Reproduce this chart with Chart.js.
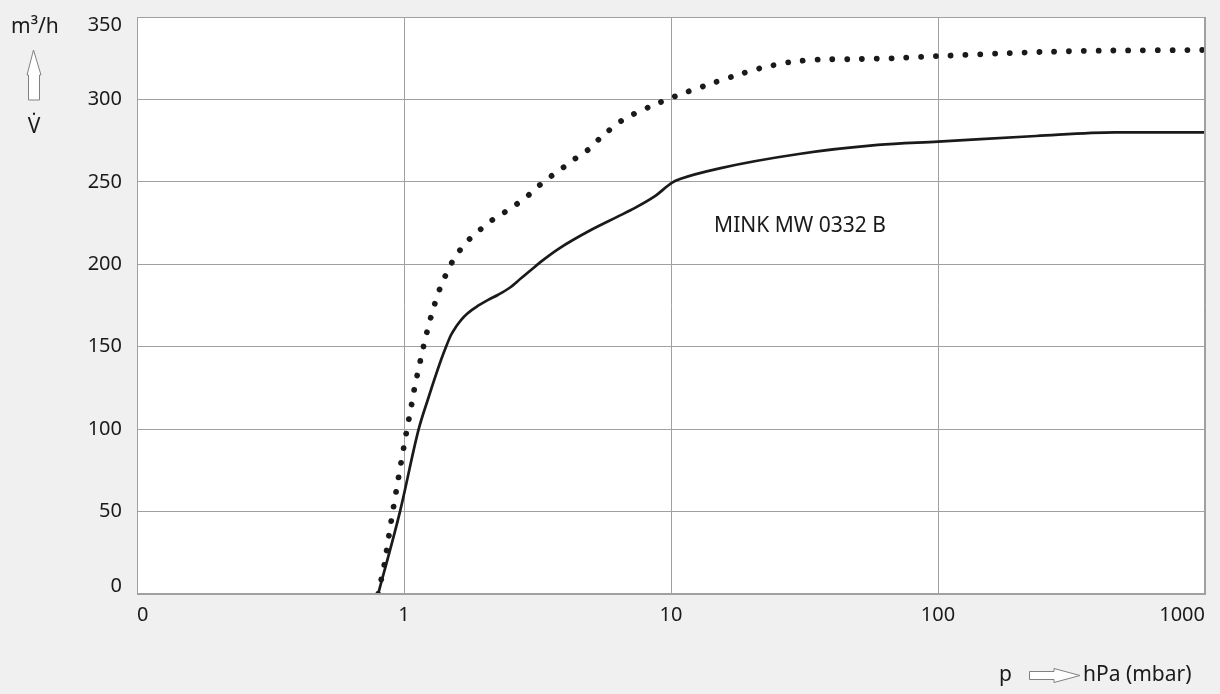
<!DOCTYPE html>
<html>
<head>
<meta charset="utf-8">
<script src="https://cdn.jsdelivr.net/npm/chart.js@4.4.1/dist/chart.umd.min.js"></script>
<style>
  html, body { margin: 0; padding: 0; background: #f0f0f0; }
  #wrap { width: 1220px; height: 694px; position: relative; }
</style>
</head>
<body>
<div id="wrap"><canvas id="c" width="1220" height="694"></canvas></div>
<script>
// ---- Data ----
const xTickValues = [0.1, 1, 10, 100, 1000];
const xTickLabels = ['0', '1', '10', '100', '1000'];
const yTickValues = [0, 50, 100, 150, 200, 250, 300, 350];
const yTickLabels = ['0', '50', '100', '150', '200', '250', '300', '350'];

// solid curve (MINK MW 0332 B)
const solidP = [0.8, 0.966, 1.135, 1.227, 1.376, 1.437, 1.50, 1.566, 1.635, 1.732, 1.888, 2.058, 2.244, 2.48, 2.744, 2.99, 3.26, 3.817, 5.01, 6.31, 7.08, 8.65, 10.1, 10.8, 15.2, 30.1, 59.5, 100, 233, 460, 1000];
const solidV = [0, 50, 100, 117.7, 141.9, 150, 157.1, 162.1, 166.2, 170.3, 174.7, 178.3, 181.4, 185.6, 191.5, 196.5, 201.6, 209.7, 220.8, 228.9, 232.9, 241, 249.5, 251.7, 258.2, 266.9, 272.4, 274.4, 277.8, 280, 280];

// dotted curve
const dotP = [0.8, 0.844, 0.896, 0.955, 1.02, 1.069, 1.093, 1.185, 1.262, 1.364, 1.517, 1.63, 1.77, 1.955, 2.16, 2.41, 2.67, 2.96, 3.26, 3.61, 4.0, 4.43, 4.88, 5.47, 6.58, 8.29, 10.4, 13.4, 17.0, 21.7, 27.9, 35.9, 46.4, 68.2, 100, 166.6, 245, 409, 1000];
const dotV = [0, 18, 44.5, 71.2, 97.7, 115.4, 124.3, 150.6, 168.2, 185.4, 201.6, 209.1, 215.7, 221.8, 227.3, 232.1, 237.0, 242.6, 248.7, 254.2, 259.4, 264.7, 269.3, 277, 287.5, 295.4, 302, 308.3, 313.9, 319, 322.6, 324.2, 324.4, 325, 326.3, 327.8, 328.8, 329.6, 330];

const curveLabel = 'MINK MW 0332 B';
const curveLabelPos = { p: 14.5, v: 223 };

// ---- Chart ----
const FONT = '"Noto Sans", sans-serif';
const TXT = '#1a1a1a';
const GRID = '#a0a0a0';

function arrowPath(ctx, pts) {
  ctx.save();
  ctx.beginPath();
  ctx.moveTo(pts[0][0], pts[0][1]);
  for (let i = 1; i < pts.length; i++) ctx.lineTo(pts[i][0], pts[i][1]);
  ctx.closePath();
  ctx.fillStyle = '#ffffff';
  ctx.fill();
  ctx.strokeStyle = '#808080';
  ctx.lineWidth = 1;
  ctx.stroke();
  ctx.restore();
}

const decor = {
  id: 'decor',
  beforeDraw(chart) {
    const { ctx, chartArea: a } = chart;
    ctx.save();
    ctx.fillStyle = '#ffffff';
    ctx.fillRect(a.left, a.top, a.right - a.left, a.bottom - a.top);
    ctx.restore();
  },
  afterDraw(chart) {
    const { ctx, chartArea: a, scales } = chart;
    const xs = scales.x, ys = scales.y;
    ctx.save();
    // frame
    ctx.strokeStyle = GRID;
    ctx.lineWidth = 1;
    ctx.strokeRect(Math.round(a.left) + 0.5, Math.round(a.top) + 0.5, Math.round(a.right - a.left) - 1, Math.round(a.bottom - a.top) - 1);

    ctx.fillStyle = TXT;
    ctx.font = '20px ' + FONT;
    // x tick labels
    ctx.textBaseline = 'middle';
    xTickValues.forEach((v, i) => {
      const px = xs.getPixelForValue(v);
      ctx.textAlign = i === 0 ? 'left' : (i === xTickValues.length - 1 ? 'right' : 'center');
      ctx.fillText(xTickLabels[i], px, a.bottom + 21);
    });
    // y tick labels
    ctx.textAlign = 'right';
    yTickValues.forEach((v, i) => {
      let py = ys.getPixelForValue(v);
      if (i === 0) py -= 8;
      if (i === yTickValues.length - 1) py += 8;
      ctx.fillText(yTickLabels[i], 122, py);
    });

    ctx.font = '21px ' + FONT;
    // y axis title
    ctx.textAlign = 'left';
    ctx.fillText('m³/h', 11, 27);
    ctx.textAlign = 'center';
    ctx.fillText('V\u0307', 34, 127);
    arrowPath(ctx, [[33.5, 50], [41, 75], [39.5, 75], [39.5, 100], [28.5, 100], [28.5, 75], [27, 75]]);

    // x axis title
    ctx.fillStyle = TXT;
    ctx.textAlign = 'left';
    ctx.fillText('p', 999, 675);
    ctx.fillText('hPa (mbar)', 1083, 675);
    arrowPath(ctx, [[1029.5, 671.5], [1054, 671.5], [1054, 668.5], [1080, 675.5], [1054, 682.5], [1054, 679.5], [1029.5, 679.5]]);

    // curve label
    ctx.fillStyle = TXT;
    ctx.textAlign = 'left';
    ctx.fillText(curveLabel, xs.getPixelForValue(curveLabelPos.p), ys.getPixelForValue(curveLabelPos.v));
    ctx.restore();
  }
};

new Chart(document.getElementById('c'), {
  type: 'line',
  data: {
    datasets: [
      {
        label: 'dotted',
        data: dotP.map((p, i) => ({ x: p, y: dotV[i] })),
        borderColor: '#1a1a1a',
        borderWidth: 5.8,
        borderDash: [0.001, 14.8],
        borderCapStyle: 'round',
        pointRadius: 0,
        tension: 0.3,
        fill: false
      },
      {
        label: curveLabel,
        data: solidP.map((p, i) => ({ x: p, y: solidV[i] })),
        borderColor: '#1a1a1a',
        borderWidth: 2.7,
        pointRadius: 0,
        cubicInterpolationMode: 'monotone',
        fill: false
      }
    ]
  },
  options: {
    responsive: false,
    animation: false,
    devicePixelRatio: 1,
    layout: { padding: { left: 137, right: 15, top: 17, bottom: 100 } },
    plugins: { legend: { display: false }, tooltip: { enabled: false } },
    scales: {
      x: {
        type: 'logarithmic',
        min: 0.1,
        max: 1000,
        afterBuildTicks: s => { s.ticks = xTickValues.map(v => ({ value: v })); },
        ticks: { display: false },
        grid: { color: GRID, lineWidth: 1, drawTicks: false },
        border: { display: true, color: GRID }
      },
      y: {
        type: 'linear',
        min: 0,
        max: 350,
        afterBuildTicks: s => { s.ticks = yTickValues.map(v => ({ value: v })); },
        ticks: { display: false },
        grid: { color: GRID, lineWidth: 1, drawTicks: false },
        border: { display: true, color: GRID }
      }
    }
  },
  plugins: [decor]
});
</script>
</body>
</html>
